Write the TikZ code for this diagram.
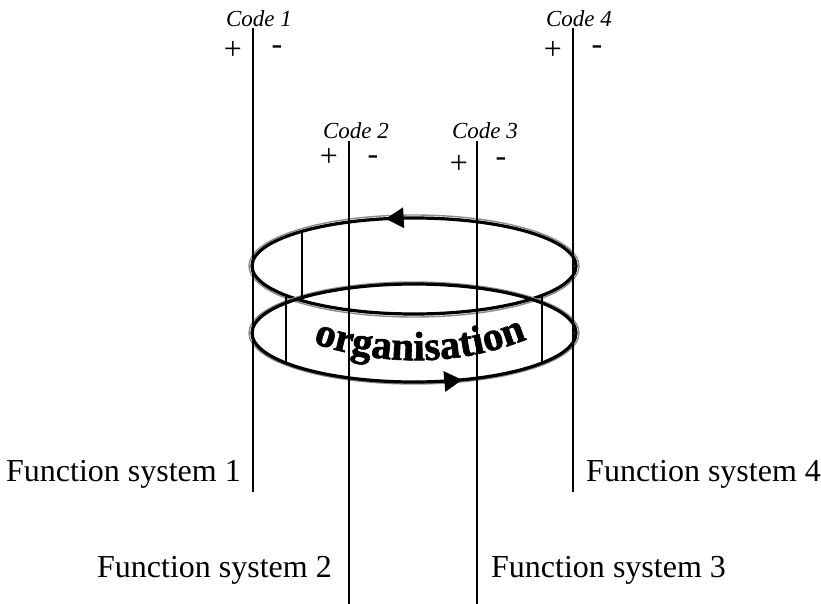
\documentclass[tikz,border=0pt]{standalone}
\usepackage{fontspec}
\setmainfont{Liberation Serif}
\newfontfamily\orgfamily{Liberation Serif}[BoldFeatures={FakeBold=1.5}]
\usetikzlibrary{arrows.meta,decorations.markings,decorations.text}
\newcommand\orgstyle{\orgfamily\fontsize{41}{41}\selectfont\bfseries}
\begin{document}
\begin{tikzpicture}[x=1pt,y=1pt,
  vline/.style={line width=1.6pt},
  ring/.style={line width=3.2pt},
  ringshade/.style={line width=1.4pt, black!45},
  codelbl/.style={inner sep=0pt, anchor=base, font=\fontsize{23}{23}\selectfont\itshape},
  sign/.style={inner sep=0pt, font=\fontsize{32}{32}\selectfont},
  fslbl/.style={inner sep=0pt, font=\fontsize{32}{32}\selectfont}
]
\useasboundingbox (0,0) rectangle (821,-604);

% ring coordinates
\coordinate (cu) at (414,-266);
\coordinate (cl) at (414,-333);

% upper ring
\draw[ringshade] (cu) ellipse [x radius=165, y radius=51];
\draw[ring, postaction={decorate}, decoration={markings,
  mark=at position 0.29 with {\arrow{Triangle[length=18pt,width=20pt]}}}]
  (cu) ellipse [x radius=162, y radius=48];

% lower ring
\draw[ringshade] (cl) ellipse [x radius=165, y radius=51];
\draw[ring, postaction={decorate}, decoration={markings,
  mark=at position 0.818 with {\arrow{Triangle[length=18pt,width=20pt]}}}]
  (cl) ellipse [x radius=162, y radius=49];

% short connecting lines between the rings
\path (cu) ++(133.7:162 and 48) coordinate (ua);
\path (cl) ++(133.7:162 and 49) coordinate (la);
\path (cu) ++(217.8:162 and 48) coordinate (ub);
\path (cl) ++(217.8:162 and 49) coordinate (lb);
\path (cu) ++(322.2:162 and 48) coordinate (uc);
\path (cl) ++(322.2:162 and 49) coordinate (lc);
\draw[vline] (ua) -- (la);
\draw[vline] (ub) -- (lb);
\draw[vline] (uc) -- (lc);

% organisation text along a sagging curve
\path[decorate, decoration={text along path, text align=center,
  text={|\orgstyle|organisation}}]
  (310,-342) .. controls (380,-367) and (460,-367) .. (530,-338);

% codes
\node[codelbl] (c1) at (259,-27) {Code 1};
\node[codelbl] (c2) at (356,-139) {Code 2};
\node[codelbl] (c3) at (485,-139) {Code 3};
\node[codelbl] (c4) at (579,-27) {Code 4};

\node[sign] (p1) at (233,-50) {+};
\node[sign] (m1) at (277,-50) {-};
\node[sign] (p2) at (329,-157) {+};
\node[sign] (m2) at (373,-160) {-};
\node[sign] (p3) at (459,-164) {+};
\node[sign] (m3) at (501,-162) {-};
\node[sign] (p4) at (553,-50) {+};
\node[sign] (m4) at (597,-50) {-};

% function systems
\node[fslbl, anchor=base east] (f1) at (241,-481) {Function system 1};
\node[fslbl, anchor=base west] (f4) at (586,-481) {Function system 4};
\node[fslbl, anchor=base east] (f2) at (332,-577) {Function system 2};
\node[fslbl, anchor=base west] (f3) at (491,-577) {Function system 3};

% vertical lines
\coordinate (t1) at (253,-28);  \coordinate (b1) at (253,-492);
\coordinate (t2) at (349,-141); \coordinate (b2) at (349,-604);
\coordinate (t3) at (477,-141); \coordinate (b3) at (477,-604);
\coordinate (t4) at (573,-28);  \coordinate (b4) at (573,-492);
\draw[vline] (t1) -- (b1);
\draw[vline] (t2) -- (b2);
\draw[vline] (t3) -- (b3);
\draw[vline] (t4) -- (b4);
\end{tikzpicture}
\end{document}
